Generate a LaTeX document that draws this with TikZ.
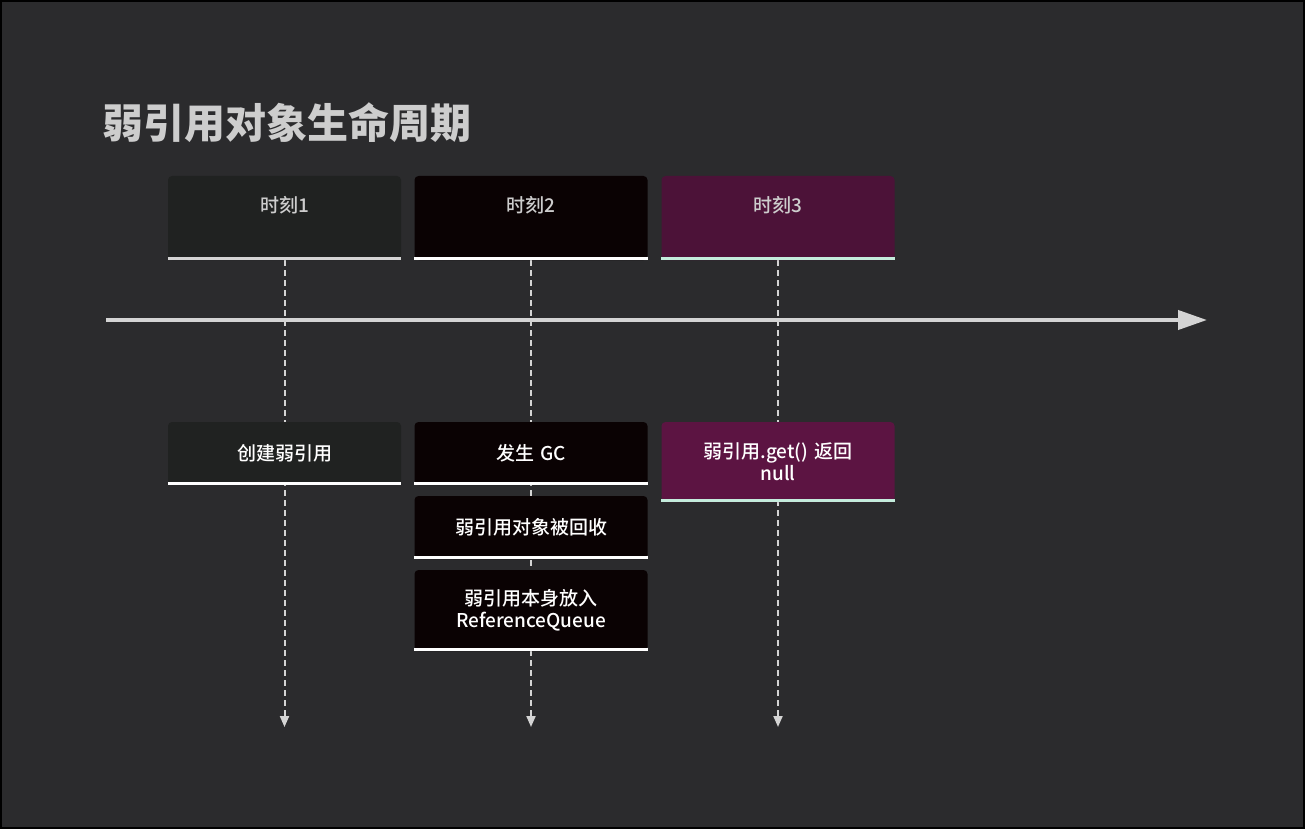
\documentclass[tikz,border=0pt]{standalone}
\usepackage{fontspec}
\setmainfont{Noto Sans CJK SC}
\newfontfamily\medfont{Noto Sans CJK SC}[UprightFont={* Medium}]
\usetikzlibrary{arrows.meta}
\definecolor{canvasbg}{RGB}{43,43,45}
\definecolor{slatebox}{RGB}{32,34,33}
\definecolor{inkbox}{RGB}{10,2,3}
\definecolor{plumhead}{RGB}{76,18,56}
\definecolor{plumbox}{RGB}{92,20,66}
\definecolor{mintrule}{RGB}{196,236,220}
\definecolor{greytext}{RGB}{205,205,205}
\definecolor{axisgrey}{RGB}{212,212,212}
\pgfdeclarelayer{canvas}
\pgfdeclarelayer{lines}
\pgfsetlayers{canvas,lines,main}
\tikzset{
	tbox/.style={inner sep=0pt, rounded corners=4pt, minimum width=233pt, text width=220pt, align=center, font=\medfont\fontsize{19}{22}\selectfont},
	headbox/.style={tbox, minimum height=84pt},
	eventbox/.style={tbox, text=white},
	boxrule/.style={line width=3pt},
	dashline/.style={line width=2pt, draw=axisgrey, dash pattern=on 6pt off 4pt, -{Triangle[length=11pt,width=9pt]}},
	timeline/.style={line width=4pt, draw=axisgrey, -{Triangle[length=29pt,width=19pt]}}
}
\begin{document}
\begin{tikzpicture}[x=1pt,y=-1pt]
	\useasboundingbox (0,0) rectangle (1305,829);
	\begin{pgfonlayer}{canvas}
		\fill[canvasbg] (0,0) rectangle (1305,829);
		\draw[black, line width=2pt] (1,1) rectangle (1304,828);
	\end{pgfonlayer}
	\node[anchor=west, text=greytext, font=\fontsize{41}{48}\selectfont\bfseries] (title) at (99,123) {弱引用对象生命周期};
	% time marks
	\foreach \n/\cx/\fillc/\lab in {1/284.5/slatebox/时刻1, 2/531/inkbox/时刻2, 3/778/plumhead/时刻3} {
		\node[headbox, fill=\fillc] (h\n) at (\cx,218) {};
		\node[text=greytext, font=\medfont\fontsize{19}{22}\selectfont] (ht\n) at ([yshift=13pt]h\n.center) {\lab};
		\coordinate (end\n) at (\cx,727);
	}
	% events
	\node[eventbox, fill=slatebox, minimum height=63pt] (e1) at (284.5,453.5) {创建弱引用};
	\node[eventbox, fill=inkbox, minimum height=63pt] (e2) at (531,453.5) {发生 GC};
	\node[eventbox, fill=inkbox, minimum height=63pt] (e3) at (531,527.5) {弱引用对象被回收};
	\node[eventbox, fill=inkbox, minimum height=81pt] (e4) at (531,610.5) {弱引用本身放入\\ReferenceQueue};
	\node[eventbox, fill=plumbox, minimum height=80pt] (e5) at (778,462) {弱引用.get() 返回\\null};
	\foreach \n/\c in {h1/axisgrey, h2/white, h3/mintrule, e1/white, e2/white, e3/white, e4/white, e5/mintrule}
		\draw[boxrule, draw=\c] ([yshift=1.5pt]\n.south west) -- ([yshift=1.5pt]\n.south east);
	\begin{pgfonlayer}{lines}
		\foreach \n in {1,2,3} \draw[dashline] (h\n.south) -- (end\n);
	\end{pgfonlayer}
	\coordinate (ax0) at (106,320);
	\coordinate (ax1) at (1207,320);
	\draw[timeline] (ax0) -- (ax1);
\end{tikzpicture}
\end{document}
